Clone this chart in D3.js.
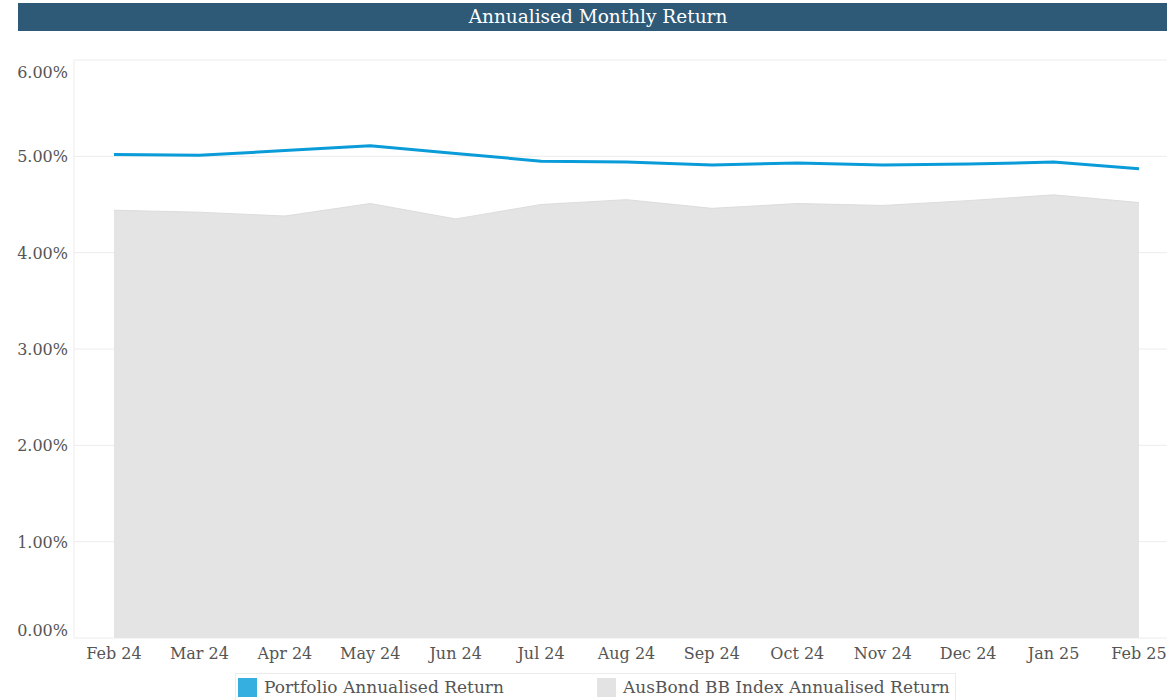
<!DOCTYPE html>
<html>
<head>
<meta charset="utf-8">
<script src="https://cdn.jsdelivr.net/npm/d3@7"></script>
<style>
  body { margin: 0; background: #fff; }
  text { font-family: "DejaVu Serif", serif; }
</style>
</head>
<body>
<svg id="chart"></svg>
<script>
let w = 1167;
let h = 700;

const months = ['Feb 24', 'Mar 24', 'Apr 24', 'May 24', 'Jun 24', 'Jul 24', 'Aug 24', 'Sep 24', 'Oct 24', 'Nov 24', 'Dec 24', 'Jan 25', 'Feb 25'];
const portfolio = [5.02, 5.01, 5.06, 5.11, 5.03, 4.95, 4.94, 4.91, 4.93, 4.91, 4.92, 4.94, 4.87];
const ausbond = [4.44, 4.42, 4.38, 4.51, 4.35, 4.50, 4.55, 4.46, 4.51, 4.49, 4.54, 4.60, 4.52];
const yTicks = [0, 1, 2, 3, 4, 5, 6];
const legendItems = ['Portfolio Annualised Return', 'AusBond BB Index Annualised Return'];

const svg = d3.select('#chart')
  .attr('width', w)
  .attr('height', h)

// title bar
svg.append('rect')
  .attr('x', 18).attr('y', 3)
  .attr('width', w - 18).attr('height', 28)
  .attr('fill', '#2e5a78')
svg.append('text')
  .attr('x', 598).attr('y', 23)
  .attr('text-anchor', 'middle')
  .attr('fill', '#fff')
  .style('font-size', '18.5px')
  .text('Annualised Monthly Return')

const pl = 74, pt = 60, pr = w, pb = 638;

const x = d3.scalePoint()
  .domain(months)
  .range([114, 1139])

const y = d3.scaleLinear()
  .domain([0, 6])
  .range([pb, pt])

// frame + grid
const grid = svg.append('g')
grid.selectAll('line')
  .data(yTicks)
  .enter()
  .append('line')
  .attr('x1', pl).attr('x2', pr)
  .attr('y1', d => y(d)).attr('y2', d => y(d))
  .attr('stroke', '#ececec')
  .attr('stroke-width', 1)
svg.append('line')
  .attr('x1', pl).attr('x2', pl)
  .attr('y1', pt).attr('y2', pb)
  .attr('stroke', '#ececec')

const data = months.map((m, i) => ({m: m, p: portfolio[i], b: ausbond[i]}))

const area = d3.area()
  .x(d => x(d.m))
  .y0(y(0))
  .y1(d => y(d.b))
svg.append('path')
  .datum(data)
  .attr('d', area)
  .attr('fill', '#e4e4e4')

svg.append('path')
  .datum(data)
  .attr('d', d3.line().x(d => x(d.m)).y(d => y(d.b)))
  .attr('fill', 'none')
  .attr('stroke', '#dcdcdc')
  .attr('stroke-width', 1)

svg.append('path')
  .datum(data)
  .attr('d', d3.line().x(d => x(d.m)).y(d => y(d.p)))
  .attr('fill', 'none')
  .attr('stroke', '#0a9bd9')
  .attr('stroke-width', 3)

// y labels
svg.append('g')
  .selectAll('text')
  .data(yTicks)
  .enter()
  .append('text')
  .attr('x', 68)
  .attr('y', d => {
    if (d === 0) return y(d) - 2
    if (d === 6) return y(d) + 18
    return y(d) + 6
  })
  .attr('text-anchor', 'end')
  .attr('fill', '#555')
  .style('font-size', '16px')
  .text(d => d.toFixed(2) + '%')

// x labels
svg.append('g')
  .selectAll('text')
  .data(months)
  .enter()
  .append('text')
  .attr('x', d => x(d))
  .attr('y', 659)
  .attr('text-anchor', 'middle')
  .attr('fill', '#555')
  .style('font-size', '16px')
  .text(d => d)

// legend
const legend = svg.append('g')
legend.append('rect')
  .attr('x', 235.5).attr('y', 673.5)
  .attr('width', 720).attr('height', 40)
  .attr('fill', '#fff')
  .attr('stroke', '#ececec')
const legColors = ['#35aee0', '#e3e3e3']
const legX = [238, 597]
legend.selectAll('g')
  .data(legendItems)
  .enter()
  .append('g')
  .attr('transform', (d, i) => `translate(${legX[i]},678)`)
  .each(function(d, i) {
    const g = d3.select(this)
    g.append('rect').attr('width', 19).attr('height', 19).attr('fill', legColors[i])
    g.append('text').attr('x', 26).attr('y', 15)
      .attr('fill', '#555')
      .style('font-size', '17px')
      .text(d)
  })
</script>
</body>
</html>
